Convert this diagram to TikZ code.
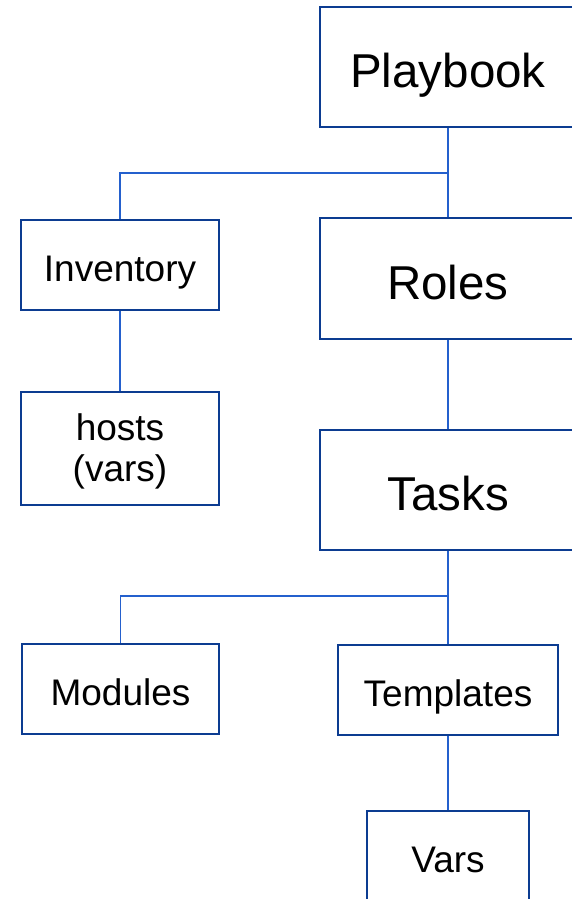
\documentclass[tikz,border=0pt]{standalone}
\usepackage{fontspec}
\setmainfont{Liberation Sans}
\definecolor{boxblue}{RGB}{12,60,145}
\definecolor{lineblue}{RGB}{36,96,205}
\begin{document}
\begin{tikzpicture}[x=1pt,y=-1pt,
  box/.style={draw=boxblue, line width=2.2pt, fill=white, inner sep=0pt, align=center, text=black},
  bigbox/.style={box, font=\fontsize{47.5}{52}\selectfont, text height=42pt, text depth=1pt},
  smallbox/.style={box, font=\fontsize{37}{37}\selectfont, text height=33pt, text depth=1pt},
  conn/.style={draw=lineblue, line width=1.4pt}]
\useasboundingbox (0,0) rectangle (572,899);
\clip (0,0) rectangle (572,899);
\node[bigbox, minimum width=256pt, minimum height=120pt] (playbook) at (448,67) {Playbook};
\node[smallbox, minimum width=198pt, minimum height=90pt] (inventory) at (120,265) {Inventory};
\node[smallbox, font=\fontsize{37}{41}\selectfont, minimum width=198pt, minimum height=113pt, text height=68pt, text depth=2pt] (hosts) at (120,448.5) {hosts\\(vars)};
\node[bigbox, minimum width=256pt, minimum height=121pt] (roles) at (448,278.5) {Roles};
\node[bigbox, minimum width=256pt, minimum height=120pt] (tasks) at (448,490) {Tasks};
\node[smallbox, minimum width=197pt, minimum height=90pt] (modules) at (120.5,689) {Modules};
\node[smallbox, minimum width=220pt, minimum height=90pt] (templates) at (448,690) {Templates};
\node[smallbox, minimum width=162pt, minimum height=90pt] (vars) at (448,856) {Vars};
\coordinate (j1) at (448,173);
\coordinate (j2) at (448,596);
\draw[conn] (playbook.south) -- (roles.north);
\draw[conn] (inventory.north) |- (j1);
\draw[conn] (inventory.south) -- (hosts.north);
\draw[conn] (roles.south) -- (tasks.north);
\draw[conn] (tasks.south) -- (templates.north);
\draw[conn] (modules.north) |- (j2);
\draw[conn] (templates.south) -- (vars.north);
\end{tikzpicture}
\end{document}
